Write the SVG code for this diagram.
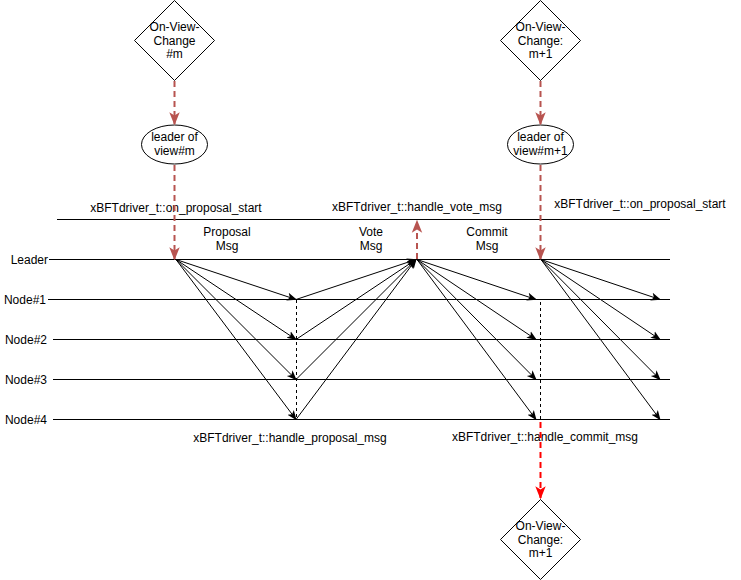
<svg xmlns="http://www.w3.org/2000/svg" width="741" height="580" viewBox="0 0 741 580">
  <style>
    text { font-family: "Liberation Sans", Arial, sans-serif; font-size: 12px; fill: #000; }
    .mid { text-anchor: middle; }
    .end { text-anchor: end; }
    .shape { fill: #fff; stroke: #000; stroke-width: 1; }
    .lane { stroke: #000; stroke-width: 1; fill: none; }
    .msg { stroke: #000; stroke-width: 1; fill: none; marker-end: url(#arrow); }
    .sync { stroke: #000; stroke-width: 1; fill: none; stroke-dasharray: 3 3; }
    .flow { stroke: #b85450; stroke-width: 2; fill: none; stroke-dasharray: 6 4; marker-end: url(#arrowBrown); }
    .flowRed { stroke: #ff0000; stroke-width: 2; fill: none; stroke-dasharray: 6 4; marker-end: url(#arrowRed); }
  </style>
  <defs>
    <marker id="arrow" markerUnits="userSpaceOnUse" markerWidth="10" markerHeight="10" viewBox="0 0 10 8" refX="9" refY="4" orient="auto">
      <path d="M0,0 L10,4 L0,8 L2.5,4 z" fill="#000"/>
    </marker>
    <marker id="arrowBrown" markerUnits="userSpaceOnUse" markerWidth="13" markerHeight="13" viewBox="0 0 10 8" refX="9" refY="4" orient="auto">
      <path d="M0,0 L10,4 L0,8 L2.5,4 z" fill="#b85450"/>
    </marker>
    <marker id="arrowRed" markerUnits="userSpaceOnUse" markerWidth="13" markerHeight="13" viewBox="0 0 10 8" refX="9" refY="4" orient="auto">
      <path d="M0,0 L10,4 L0,8 L2.5,4 z" fill="#ff0000"/>
    </marker>
  </defs>

  <rect width="741" height="580" fill="#fff"/>

  <!-- lanes -->
  <g id="lanes">
    <line class="lane" x1="57" y1="219.5" x2="670" y2="219.5"/>
    <line class="lane" x1="49" y1="259.5" x2="670" y2="259.5"/>
    <line class="lane" x1="48" y1="299.5" x2="670" y2="299.5"/>
    <line class="lane" x1="53" y1="339.5" x2="670" y2="339.5"/>
    <line class="lane" x1="53" y1="379.5" x2="670" y2="379.5"/>
    <line class="lane" x1="53" y1="419.5" x2="670" y2="419.5"/>
    <text class="end" x="48" y="263.5">Leader</text>
    <text class="end" x="46" y="303.5">Node#1</text>
    <text class="end" x="47" y="343.5">Node#2</text>
    <text class="end" x="47" y="383.5">Node#3</text>
    <text class="end" x="47" y="423.5">Node#4</text>
  </g>

  <!-- nodes -->
  <g id="view-change-m">
    <polygon class="shape" points="174.5,0.5 214.5,40.5 174.5,80.5 134.5,40.5"/>
    <text class="mid" x="174.5" y="30.5">On-View-</text>
    <text class="mid" x="174.5" y="44.5">Change</text>
    <text class="mid" x="174.5" y="58">#m</text>
  </g>
  <g id="view-change-m1">
    <polygon class="shape" points="540.5,0.5 580.5,40.5 540.5,80.5 500.5,40.5"/>
    <text class="mid" x="540.5" y="30.5">On-View-</text>
    <text class="mid" x="540.5" y="44.5">Change:</text>
    <text class="mid" x="540.5" y="58">m+1</text>
  </g>
  <g id="view-change-m1-next">
    <polygon class="shape" points="540.5,499.5 580.5,539.5 540.5,579.5 500.5,539.5"/>
    <text class="mid" x="540.5" y="529.5">On-View-</text>
    <text class="mid" x="540.5" y="543.5">Change:</text>
    <text class="mid" x="540.5" y="557">m+1</text>
  </g>
  <g id="leader-m">
    <ellipse class="shape" cx="174.5" cy="144.5" rx="33" ry="19.5"/>
    <text class="mid" x="174.5" y="141">leader of</text>
    <text class="mid" x="174.5" y="155">view#m</text>
  </g>
  <g id="leader-m1">
    <ellipse class="shape" cx="540.5" cy="144.5" rx="33" ry="19.5"/>
    <text class="mid" x="540.5" y="141">leader of</text>
    <text class="mid" x="540.5" y="155">view#m+1</text>
  </g>

  <!-- labels -->
  <g id="labels">
    <text class="mid" x="176" y="212">xBFTdriver_t::on_proposal_start</text>
    <text class="mid" x="417" y="211">xBFTdriver_t::handle_vote_msg</text>
    <text class="mid" x="640" y="208">xBFTdriver_t::on_proposal_start</text>
    <text class="mid" x="227" y="236">Proposal</text>
    <text class="mid" x="227" y="250">Msg</text>
    <text class="mid" x="371" y="236">Vote</text>
    <text class="mid" x="371" y="250">Msg</text>
    <text class="mid" x="487" y="236">Commit</text>
    <text class="mid" x="487" y="250">Msg</text>
    <text class="mid" x="290" y="442">xBFTdriver_t::handle_proposal_msg</text>
    <text class="mid" x="545" y="441">xBFTdriver_t::handle_commit_msg</text>
  </g>

  <!-- connectors -->
  <g id="connectors">
    <!-- view change flow -->
    <line class="flow" x1="174.5" y1="81" x2="174.5" y2="124"/>
    <line class="flow" x1="174.5" y1="165" x2="174.5" y2="259"/>
    <line class="flow" x1="540.5" y1="81" x2="540.5" y2="124"/>
    <line class="flow" x1="540.5" y1="165" x2="540.5" y2="259"/>
    <line class="flow" x1="417" y1="259" x2="417" y2="221"/>
    <line class="flowRed" x1="540.5" y1="422" x2="540.5" y2="498"/>

    <!-- proposal -->
    <line class="msg" x1="176" y1="259.5" x2="296" y2="299.5"/>
    <line class="msg" x1="176" y1="259.5" x2="296" y2="339.5"/>
    <line class="msg" x1="176" y1="259.5" x2="296" y2="379.5"/>
    <line class="msg" x1="176" y1="259.5" x2="296" y2="419.5"/>
    <line class="sync" x1="296.5" y1="300" x2="296.5" y2="419"/>

    <!-- vote -->
    <line class="msg" x1="296" y1="299.5" x2="416" y2="259.5"/>
    <line class="msg" x1="296" y1="339.5" x2="416" y2="259.5"/>
    <line class="msg" x1="296" y1="379.5" x2="416" y2="259.5"/>
    <line class="msg" x1="296" y1="419.5" x2="416" y2="259.5"/>

    <!-- commit -->
    <line class="msg" x1="417" y1="259.5" x2="536" y2="299.5"/>
    <line class="msg" x1="417" y1="259.5" x2="536" y2="339.5"/>
    <line class="msg" x1="417" y1="259.5" x2="536" y2="379.5"/>
    <line class="msg" x1="417" y1="259.5" x2="536" y2="419.5"/>
    <line class="sync" x1="540.5" y1="302" x2="540.5" y2="419"/>

    <!-- next proposal -->
    <line class="msg" x1="541" y1="259.5" x2="660" y2="299.5"/>
    <line class="msg" x1="541" y1="259.5" x2="660" y2="339.5"/>
    <line class="msg" x1="541" y1="259.5" x2="660" y2="379.5"/>
    <line class="msg" x1="541" y1="259.5" x2="660" y2="419.5"/>
  </g>
</svg>
